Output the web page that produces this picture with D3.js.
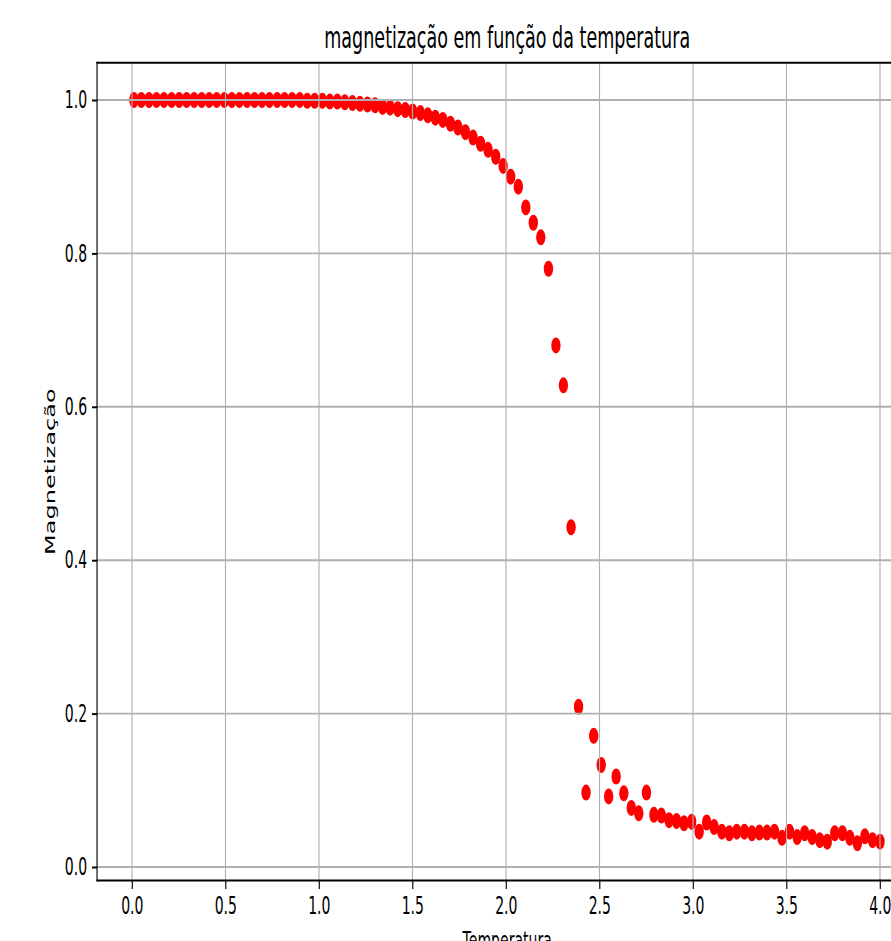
<!DOCTYPE html>
<html>
<head>
<meta charset="utf-8">
<script src="https://cdn.jsdelivr.net/npm/d3@7"></script>
<style>
  body { margin: 0; background: #fff; }
  svg { display: block; }
  text { font-family: "DejaVu Sans", sans-serif; fill: #000; }
</style>
</head>
<body>
<script>
"use strict";

// temperatura (x) and magnetização (y)
var temperatura = [
  0.010, 0.050, 0.091, 0.131, 0.171, 0.212, 0.252, 0.292, 0.332, 0.373,
  0.413, 0.453, 0.494, 0.534, 0.574, 0.615, 0.655, 0.695, 0.735, 0.776,
  0.816, 0.856, 0.897, 0.937, 0.977, 1.018, 1.058, 1.098, 1.138, 1.179,
  1.219, 1.259, 1.300, 1.340, 1.380, 1.421, 1.461, 1.501, 1.542, 1.582,
  1.622, 1.662, 1.703, 1.743, 1.783, 1.824, 1.864, 1.904, 1.945, 1.985,
  2.025, 2.066, 2.106, 2.146, 2.186, 2.227, 2.267, 2.307, 2.348, 2.388,
  2.428, 2.469, 2.509, 2.549, 2.589, 2.630, 2.670, 2.710, 2.751, 2.791,
  2.831, 2.872, 2.912, 2.952, 2.993, 3.033, 3.073, 3.113, 3.154, 3.194,
  3.234, 3.275, 3.315, 3.355, 3.396, 3.436, 3.476, 3.516, 3.557, 3.597,
  3.637, 3.678, 3.718, 3.758, 3.799, 3.839, 3.879, 3.919, 3.960, 4.000
];

var magnetizacao = [
  1.000, 1.000, 1.000, 1.000, 1.000, 1.000, 1.000, 1.000, 1.000, 1.000,
  1.000, 1.000, 1.000, 1.000, 1.000, 1.000, 1.000, 1.000, 1.000, 1.000,
  1.000, 1.000, 1.000, 0.999, 0.999, 0.999, 0.998, 0.998, 0.997, 0.996,
  0.995, 0.994, 0.993, 0.991, 0.990, 0.988, 0.987, 0.985, 0.983, 0.980,
  0.977, 0.974, 0.969, 0.964, 0.958, 0.951, 0.943, 0.935, 0.926, 0.914,
  0.900, 0.887, 0.860, 0.840, 0.821, 0.780, 0.680, 0.628, 0.443, 0.209,
  0.097, 0.171, 0.133, 0.092, 0.118, 0.096, 0.077, 0.070, 0.097, 0.068,
  0.067, 0.061, 0.060, 0.057, 0.059, 0.046, 0.058, 0.052, 0.046, 0.044,
  0.046, 0.046, 0.044, 0.045, 0.045, 0.046, 0.038, 0.046, 0.039, 0.044,
  0.039, 0.035, 0.033, 0.044, 0.044, 0.038, 0.031, 0.040, 0.035, 0.033
];

var x_ticks = [0.0, 0.5, 1.0, 1.5, 2.0, 2.5, 3.0, 3.5, 4.0];
var y_ticks = [0.0, 0.2, 0.4, 0.6, 0.8, 1.0];

var titulo = 'magnetização em função da temperatura',
  x_label = 'Temperatura',
  y_label = 'Magnetização';

function draw() {
  var data = temperatura.map((t, i) => ({t: t, m: magnetizacao[i]}));

  // the picture is squeezed horizontally, so draw in a wider space and squash
  var sx = 0.585,
    W = 891, H = 941,
    lw = 1.94;

  var svg = d3.select('body').append('svg')
    .attr('width', W)
    .attr('height', H);

  svg.append('rect')
    .attr('width', W)
    .attr('height', H)
    .attr('fill', '#fff');

  var g = svg.append('g')
    .attr('transform', `scale(${sx}, 1)`);

  // scales (x range in the unsquashed space)
  var x = d3.scaleLinear()
    .domain([0, 4])
    .range([132 / sx, 880 / sx]);

  var y = d3.scaleLinear()
    .domain([0, 1])
    .range([867, 100]);

  var x_lim = [-0.187, 4.2],
    y_lim = [-0.0175, 1.0485];

  var p_left = x(x_lim[0]), p_right = x(x_lim[1]),
    p_top = y(y_lim[1]), p_bottom = y(y_lim[0]),
    p_cx = (p_left + p_right) / 2;

  // points ---------------------------------------------------
  g.append('g')
    .attr('class', 'points')
    .selectAll('circle')
    .data(data)
    .enter()
    .append('circle')
      .attr('cx', d => x(d.t))
      .attr('cy', d => y(d.m))
      .attr('r', 8)
      .attr('fill', '#ff0000');

  // gridlines (drawn above the points, as in the picture)
  var grid = g.append('g').attr('class', 'grid');

  grid.selectAll('.gx')
    .data(x_ticks)
    .enter()
    .append('line')
      .attr('class', 'gx')
      .attr('x1', d => x(d)).attr('x2', d => x(d))
      .attr('y1', p_top).attr('y2', p_bottom)
      .attr('stroke', '#b0b0b0')
      .attr('stroke-width', lw);

  grid.selectAll('.gy')
    .data(y_ticks)
    .enter()
    .append('line')
      .attr('class', 'gy')
      .attr('x1', p_left).attr('x2', p_right)
      .attr('y1', d => y(d)).attr('y2', d => y(d))
      .attr('stroke', '#b0b0b0')
      .attr('stroke-width', lw);

  // axes -----------------------------------------------------
  var axis_x = d3.axisBottom(x)
    .tickValues(x_ticks)
    .tickFormat(d3.format('.1f'))
    .tickSize(8.5)
    .tickPadding(8.5);

  var axis_y = d3.axisLeft(y)
    .tickValues(y_ticks)
    .tickFormat(d3.format('.1f'))
    .tickSize(8.5)
    .tickPadding(8.5);

  var gx = g.append('g')
    .attr('transform', `translate(0, ${p_bottom})`)
    .call(axis_x);

  var gy = g.append('g')
    .attr('transform', `translate(${p_left}, 0)`)
    .call(axis_y);

  [gx, gy].forEach(a => {
    a.select('.domain').remove();
    a.selectAll('.tick line').attr('stroke', '#000').attr('stroke-width', lw);
    a.selectAll('.tick text')
      .style('font-family', '"DejaVu Sans", sans-serif')
      .style('font-size', '24px')
      .attr('fill', '#000');
  });

  // spines
  var spines = g.append('g')
    .attr('fill', 'none')
    .attr('stroke', '#000')
    .attr('stroke-width', lw)
    .attr('stroke-linecap', 'square');

  spines.append('line').attr('x1', p_left).attr('x2', p_right).attr('y1', p_top).attr('y2', p_top);
  spines.append('line').attr('x1', p_left).attr('x2', p_right).attr('y1', p_bottom).attr('y2', p_bottom);
  spines.append('line').attr('x1', p_left).attr('x2', p_left).attr('y1', p_top).attr('y2', p_bottom);
  spines.append('line').attr('x1', p_right).attr('x2', p_right).attr('y1', p_top).attr('y2', p_bottom);

  // texts ----------------------------------------------------
  g.append('text')
    .attr('x', p_cx)
    .attr('y', 48)
    .attr('text-anchor', 'middle')
    .style('font-size', '30px')
    .text(titulo);

  g.append('text')
    .attr('x', p_cx)
    .attr('y', 949)
    .attr('text-anchor', 'middle')
    .style('font-size', '24px')
    .text(x_label);

  g.append('text')
    .attr('transform', `translate(${55 / sx}, ${(p_top + p_bottom) / 2}) rotate(-90)`)
    .attr('text-anchor', 'middle')
    .style('font-size', '24px')
    .text(y_label);
}

draw();
</script>
</body>
</html>
